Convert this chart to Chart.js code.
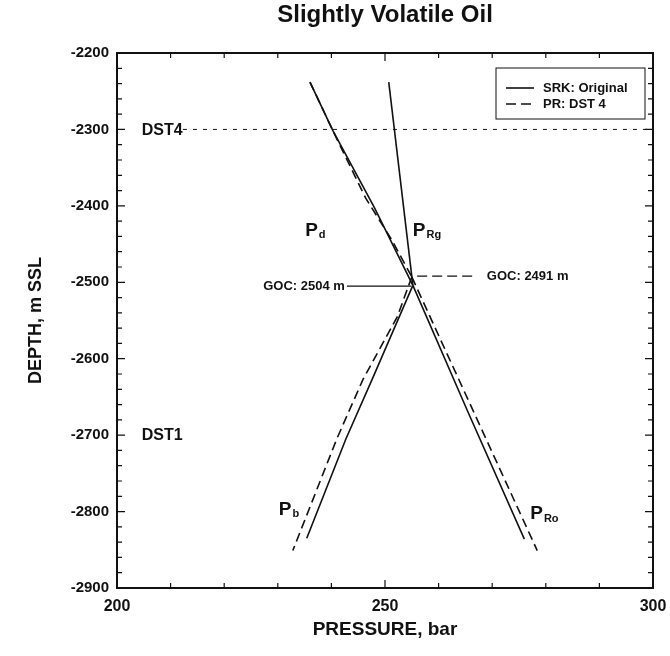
<!DOCTYPE html>
<html>
<head>
<meta charset="utf-8">
<title>Slightly Volatile Oil</title>
<script src="https://cdn.jsdelivr.net/npm/chart.js@4"></script>
<style>
    html, body { margin: 0; padding: 0; background: #fff; }
    #wrap { width: 670px; height: 656px; }
</style>
</head>
<body>
<div id="wrap"><canvas id="depth-chart" width="670" height="656"></canvas></div>
<script>
// SRK (original) saturation / reservoir pressure lines
const srkDewP = [236.0, 240.3, 248.0, 255.2];
const srkDewD = [-2238, -2302, -2402, -2504];
const srkGasP = [250.7, 255.2];
const srkGasD = [-2238, -2504];
const srkBubP = [255.2, 247.6, 242.7, 235.4];
const srkBubD = [-2504, -2627, -2705, -2835];
const srkOilP = [255.2, 265.5, 276.0];
const srkOilD = [-2504, -2670, -2836];

// PR (DST 4) lines
const prDewP = [236.0, 240.3, 246.4, 251.3, 255.0];
const prDewD = [-2238, -2302, -2390, -2445, -2493];
const prBubP = [255.0, 252.3, 245.9, 241.0, 232.8];
const prBubD = [-2493, -2545, -2627, -2705, -2851];
const prOilP = [255.0, 258.4, 278.4];
const prOilD = [-2493, -2545, -2851];

// gas-oil contacts and test depth
const gocSrkP = [242.9, 254.9];
const gocSrkD = [-2505, -2505];
const gocPrP = [256.0, 267.2];
const gocPrD = [-2492, -2492];
const dst4P = [212.3, 300];
const dst4D = [-2300, -2300];

// axes
const xTicks = [200, 250, 300];
const yTicks = [-2900, -2800, -2700, -2600, -2500, -2400, -2300, -2200];

// text labels: [text, subscript, pressure, depth]
const curveLabels = [
    ['P', 'd', 235.1, -2432],
    ['P', 'Rg', 255.2, -2432],
    ['P', 'b', 230.2, -2797],
    ['P', 'Ro', 277.1, -2803]
];
const noteLabels = [
    ['DST4', 204.6, -2302, 'left'],
    ['DST1', 204.6, -2701, 'left'],
    ['GOC: 2504 m', 242.5, -2505, 'right'],
    ['GOC: 2491 m', 269.0, -2492, 'left']
];

const FONT = '"Liberation Sans", Arial, Helvetica, sans-serif';

function pts(px, dy) {
    return px.map((p, i) => ({ x: p, y: dy[i] }));
}

function solid(label, data) {
    return { label, data, showLine: true, borderColor: '#111', borderWidth: 1.6, pointRadius: 0, fill: false };
}

function dashed(label, data) {
    return { label, data, showLine: true, borderColor: '#111', borderWidth: 1.6, borderDash: [9, 5], pointRadius: 0, fill: false };
}

// frame, inward ticks, labels, legend and title
const decorations = {
    id: 'decorations',
    afterDatasetsDraw(chart) {
        const { ctx, chartArea: a, scales: { x, y } } = chart;
        ctx.save();

        // frame
        ctx.strokeStyle = '#111';
        ctx.lineWidth = 2;
        ctx.strokeRect(a.left, a.top, a.right - a.left, a.bottom - a.top);

        // inward ticks on all four sides
        ctx.lineWidth = 1.2;
        ctx.beginPath();
        for (let v = 210; v < 300; v += 10) {
            const px = x.getPixelForValue(v);
            const len = v % 50 === 0 ? 8 : 5;
            ctx.moveTo(px, a.bottom); ctx.lineTo(px, a.bottom - len);
            ctx.moveTo(px, a.top); ctx.lineTo(px, a.top + len);
        }
        for (let v = -2880; v < -2200; v += 20) {
            const py = y.getPixelForValue(v);
            const len = v % 100 === 0 ? 8 : 5;
            ctx.moveTo(a.left, py); ctx.lineTo(a.left + len, py);
            ctx.moveTo(a.right, py); ctx.lineTo(a.right - len, py);
        }
        ctx.stroke();

        // curve names with subscripts
        ctx.fillStyle = '#111';
        ctx.textBaseline = 'middle';
        ctx.textAlign = 'left';
        curveLabels.forEach(([main, sub, p, d]) => {
            const px = x.getPixelForValue(p);
            const py = y.getPixelForValue(d);
            ctx.font = 'bold 19px ' + FONT;
            ctx.fillText(main, px, py);
            const w = ctx.measureText(main).width;
            ctx.font = 'bold 11px ' + FONT;
            ctx.fillText(sub, px + w + 1, py + 5);
        });

        // notes
        noteLabels.forEach(([text, p, d, align]) => {
            ctx.font = (text.startsWith('GOC') ? 'bold 13px ' : 'bold 16px ') + FONT;
            ctx.textAlign = align;
            ctx.fillText(text, x.getPixelForValue(p), y.getPixelForValue(d));
        });

        // legend box in the upper right corner
        const bx = a.right - 157, by = a.top + 15, bw = 149, bh = 51;
        ctx.lineWidth = 1;
        ctx.strokeRect(bx, by, bw, bh);
        const rows = [
            ['SRK: Original', []],
            ['PR: DST 4', [10, 5]]
        ];
        ctx.font = 'bold 13px ' + FONT;
        ctx.textAlign = 'left';
        rows.forEach(([text, dash], i) => {
            const ly = by + 20 + i * 16;
            ctx.setLineDash(dash);
            ctx.lineWidth = 1.6;
            ctx.beginPath();
            ctx.moveTo(bx + 10, ly);
            ctx.lineTo(bx + 38, ly);
            ctx.stroke();
            ctx.setLineDash([]);
            ctx.fillText(text, bx + 47, ly);
        });

        ctx.restore();
    },
    afterDraw(chart) {
        const { ctx, chartArea: a } = chart;
        ctx.save();
        ctx.fillStyle = '#111';
        ctx.font = 'bold 24px ' + FONT;
        ctx.textAlign = 'center';
        ctx.textBaseline = 'middle';
        ctx.fillText('Slightly Volatile Oil', (a.left + a.right) / 2, 15);
        ctx.restore();
    }
};

new Chart(document.getElementById('depth-chart'), {
    type: 'scatter',
    data: {
        datasets: [
            solid('SRK Pd', pts(srkDewP, srkDewD)),
            solid('SRK PRg', pts(srkGasP, srkGasD)),
            solid('SRK Pb', pts(srkBubP, srkBubD)),
            solid('SRK PRo', pts(srkOilP, srkOilD)),
            dashed('PR Pd', pts(prDewP, prDewD)),
            dashed('PR Pb', pts(prBubP, prBubD)),
            dashed('PR PRo', pts(prOilP, prOilD)),
            { ...solid('GOC SRK', pts(gocSrkP, gocSrkD)), borderWidth: 1.2 },
            { ...dashed('GOC PR', pts(gocPrP, gocPrD)), borderWidth: 1.2, borderDash: [10, 5] },
            { ...dashed('DST4', pts(dst4P, dst4D)), borderWidth: 1, borderDash: [4, 6] }
        ]
    },
    options: {
        responsive: false,
        animation: false,
        devicePixelRatio: 1,
        layout: { padding: { top: 53, right: 17, bottom: 0, left: 0 } },
        plugins: {
            legend: { display: false },
            tooltip: { enabled: false },
            title: { display: false }
        },
        scales: {
            x: {
                type: 'linear',
                min: 200,
                max: 300,
                afterBuildTicks: s => { s.ticks = xTicks.map(v => ({ value: v })); },
                afterFit: s => { s.height = 68; s.paddingLeft = 0; s.paddingRight = 0; },
                grid: { display: false, drawTicks: false },
                border: { display: false },
                ticks: {
                    padding: 9,
                    color: '#111',
                    maxRotation: 0,
                    font: { family: FONT, size: 16, weight: 'bold' },
                    callback: v => String(v)
                },
                title: {
                    display: true,
                    text: 'PRESSURE, bar',
                    color: '#111',
                    font: { family: FONT, size: 19, weight: 'bold' },
                    padding: { top: 0, bottom: 15 }
                }
            },
            y: {
                type: 'linear',
                min: -2900,
                max: -2200,
                afterBuildTicks: s => { s.ticks = yTicks.map(v => ({ value: v })); },
                afterFit: s => { s.width = 117; s.paddingTop = 0; s.paddingBottom = 0; },
                grid: { display: false, drawTicks: false },
                border: { display: false },
                ticks: {
                    padding: 8,
                    color: '#111',
                    font: { family: FONT, size: 15, weight: 'bold' },
                    callback: v => String(v)
                },
                title: {
                    display: true,
                    text: 'DEPTH, m SSL',
                    color: '#111',
                    font: { family: FONT, size: 18, weight: 'bold' },
                    padding: { top: 25, bottom: 0 }
                }
            }
        }
    },
    plugins: [decorations]
});
</script>
</body>
</html>
